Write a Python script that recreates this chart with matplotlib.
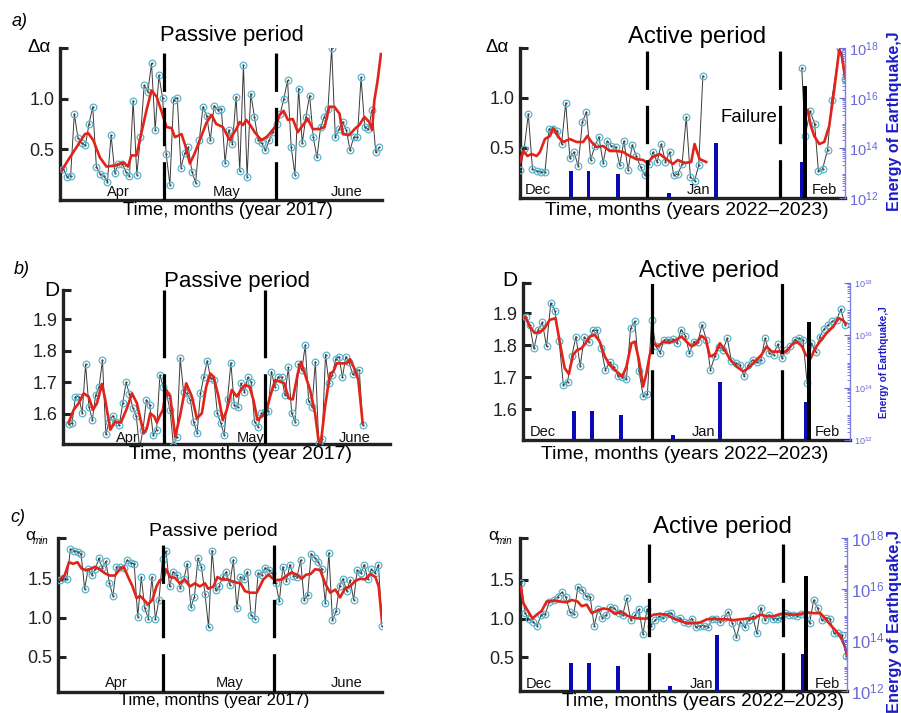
import numpy as np
import matplotlib
matplotlib.use('Agg')
import matplotlib.pyplot as plt
from matplotlib.ticker import LogLocator, NullFormatter

plt.rcParams['font.family'] = ['Liberation Sans', 'DejaVu Sans']
plt.rcParams['mathtext.fontset'] = 'custom'
plt.rcParams['mathtext.rm'] = 'Liberation Sans'
plt.rcParams['mathtext.it'] = 'Liberation Sans:italic'

# ======================= DATA =======================
# (a) Δα, passive period (Apr-June 2017); x in days from axis start
a_pas_span = (0.9, 87.3)
a_pas_raw = [0.31, 0.23, 0.24, 0.85, 0.61, 0.56, 0.54, 0.75, 0.92, 0.33,
             0.26, 0.24, 0.18, 0.64, 0.27, 0.36, 0.36, 0.28, 0.24, 0.98,
             0.25, 0.62, 1.13, 1.07, 1.35, 0.69, 1.23, 1.01, 0.45, 0.15,
             0.99, 1.01, 0.32, 0.46, 0.52, 0.28, 0.17, 0.59, 0.92, 0.83,
             0.59, 0.93, 0.89, 0.90, 0.37, 0.69, 0.55, 1.02, 0.29, 1.33,
             0.23, 1.05, 0.82, 0.59, 0.56, 0.49, 0.59, 0.67, 0.75, 0.85,
             1.00, 1.18, 0.52, 0.25, 1.10, 0.56, 0.82, 1.03, 0.62, 0.42,
             0.72, 0.82, 0.90, 1.50, 0.62, 0.70, 0.77, 0.69, 0.49, 0.62,
             0.62, 1.21, 0.72, 0.70, 0.89, 0.47, 0.52]
a_pas_red_x = [0.5, 1.8, 4.5, 6.8, 7.7, 9.1, 10.9, 12.7, 15, 17.3,
               18.6, 19.5, 20.9, 21.8, 23.6, 25, 26.4, 27.7, 29.1, 30.5,
               31.4, 33.2, 34.4, 35.5, 36.8, 38.2, 40, 41.4, 42.7, 44.5,
               46.4, 47.3, 48.2, 49.1, 50, 50.9, 51.8, 53.2, 55, 56.4,
               57.7, 59.1, 60, 61.1, 62.3, 63.6, 65, 66.4, 67.7, 69.1,
               70.9, 72.3, 73.6, 75, 76.4, 77.3, 79.1, 80.5, 81.8, 83.2,
               84.5, 85.3, 85.9, 86.8, 87.7]
a_pas_red_y = [0.29, 0.37, 0.52, 0.65, 0.66, 0.59, 0.42, 0.33, 0.34, 0.37,
               0.33, 0.44, 0.44, 0.59, 0.88, 1.08, 1.02, 0.88, 0.72, 0.71,
               0.62, 0.65, 0.52, 0.36, 0.46, 0.59, 0.76, 0.84, 0.75, 0.72,
               0.59, 0.65, 0.70, 0.77, 0.74, 0.79, 0.75, 0.67, 0.59, 0.62,
               0.67, 0.74, 0.84, 0.88, 0.79, 0.80, 0.67, 0.74, 0.80, 0.70,
               0.70, 0.72, 0.92, 0.92, 0.85, 0.65, 0.64, 0.70, 0.74, 0.82,
               0.77, 0.69, 0.98, 1.18, 1.44]

# (a) Δα, active period (Dec 2022 - Feb 2023); x in days from 1 Dec
a_act_span1 = (0.0, 44.0)
a_act_raw1 = [0.28, 0.49, 0.84, 0.29, 0.27, 0.26, 0.26, 0.69, 0.69, 0.67,
              0.54, 0.95, 0.40, 0.46, 0.32, 0.76, 0.86, 0.38, 0.52, 0.61,
              0.35, 0.57, 0.52, 0.51, 0.33, 0.57, 0.28, 0.53, 0.42, 0.31,
              0.23, 0.34, 0.46, 0.36, 0.54, 0.36, 0.46, 0.23, 0.24, 0.34,
              0.81, 0.21, 0.17, 0.33, 1.22]
a_act_x2 = [67.8, 68.6, 69.8, 70.9, 71.8, 72.8, 74.0, 75.0, 76.9, 78.2]
a_act_raw2 = [1.30, 0.62, 0.87, 0.74, 0.27, 0.29, 0.48, 0.98, 1.50, 1.19]
a_act_red_x1 = [0, 0.8, 1.8, 2.8, 4, 4.8, 6, 7.2, 8, 9.2, 10.4, 12, 13.6, 15.2,
                16.2, 17.2, 18.4, 20, 21.6, 23.2, 24.8, 26.4, 28, 29.6, 30.6,
                32, 33.6, 35.2, 36.8, 38, 39.6, 41.2, 42, 43.2, 44.8]
a_act_red_y1 = [0.36, 0.47, 0.42, 0.44, 0.42, 0.46, 0.59, 0.62, 0.70, 0.61,
                0.56, 0.59, 0.56, 0.56, 0.62, 0.56, 0.51, 0.52, 0.47, 0.47,
                0.46, 0.42, 0.39, 0.38, 0.35, 0.41, 0.44, 0.39, 0.34, 0.38,
                0.35, 0.36, 0.54, 0.39, 0.36]
a_act_red_x2 = [69.2, 70, 70.8, 72, 73.2, 74.4, 75.6, 76.8, 77.4, 78.2]
a_act_red_y2 = [0.88, 0.72, 0.62, 0.54, 0.56, 0.72, 1.08, 1.48, 1.44, 1.21]

# (b) D, passive period
b_pas_span = (1.7, 90.0)
b_pas_raw = [1.567, 1.571, 1.655, 1.655, 1.602, 1.757, 1.623, 1.581, 1.660, 1.686,
             1.770, 1.536, 1.576, 1.594, 1.576, 1.565, 1.634, 1.700, 1.662, 1.620,
             1.594, 1.490, 1.550, 1.644, 1.628, 1.534, 1.550, 1.723, 1.686, 1.660,
             1.613, 1.500, 1.528, 1.776, 1.670, 1.665, 1.644, 1.573, 1.541, 1.665,
             1.718, 1.768, 1.713, 1.707, 1.602, 1.571, 1.534, 1.646, 1.762, 1.628,
             1.623, 1.697, 1.670, 1.716, 1.702, 1.576, 1.560, 1.602, 1.607, 1.610,
             1.734, 1.686, 1.718, 1.716, 1.660, 1.747, 1.602, 1.576, 1.758, 1.739,
             1.818, 1.641, 1.623, 1.765, 1.507, 1.520, 1.788, 1.697, 1.723, 1.774,
             1.781, 1.716, 1.781, 1.763, 1.725, 1.734, 1.739, 1.565]
b_pas_red_x = [1.7, 3.2, 4.7, 6.2, 7.7, 9, 10.2, 11.7, 12.7, 14.2,
               15.7, 17.4, 19.2, 20.7, 22.2, 24.2, 25.2, 26.2, 27.4, 28.2,
               29, 30, 31, 32.2, 33.7, 35.2, 37, 38.7, 40.2, 41.7,
               43, 44.2, 45.2, 46.7, 48, 49.2, 50.7, 52.2, 53.4, 54.7,
               56, 57.2, 58.4, 59.7, 61, 62.2, 63.7, 65.2, 66.5, 67.7,
               69, 70.5, 71.5, 72.4, 74.2, 75.7, 76.7, 77.4, 78.7, 80.2,
               81.2, 82.2, 83.7, 85.2, 86.2, 87.7, 88.7, 90]
b_pas_red_y = [1.573, 1.613, 1.634, 1.665, 1.655, 1.613, 1.634, 1.695, 1.644, 1.550,
               1.576, 1.573, 1.618, 1.665, 1.634, 1.539, 1.555, 1.602, 1.592, 1.573,
               1.592, 1.613, 1.676, 1.655, 1.528, 1.597, 1.697, 1.655, 1.586, 1.602,
               1.686, 1.728, 1.718, 1.655, 1.581, 1.613, 1.676, 1.655, 1.676, 1.692,
               1.686, 1.644, 1.581, 1.592, 1.607, 1.655, 1.707, 1.702, 1.697, 1.650,
               1.646, 1.728, 1.765, 1.734, 1.676, 1.602, 1.518, 1.505, 1.623, 1.728,
               1.734, 1.760, 1.760, 1.760, 1.773, 1.739, 1.707, 1.570]

# (b) D, active period
b_act_span = (0.6, 77.2)
b_act_raw = [1.888, 1.864, 1.790, 1.848, 1.871, 1.796, 1.931, 1.908, 1.814, 1.676,
             1.686, 1.765, 1.827, 1.735, 1.825, 1.811, 1.846, 1.846, 1.790, 1.723,
             1.746, 1.733, 1.704, 1.702, 1.694, 1.853, 1.874, 1.718, 1.642, 1.648,
             1.879, 1.796, 1.777, 1.817, 1.817, 1.819, 1.806, 1.848, 1.830, 1.775,
             1.811, 1.811, 1.864, 1.817, 1.723, 1.765, 1.794, 1.785, 1.822, 1.749,
             1.744, 1.738, 1.704, 1.738, 1.754, 1.746, 1.754, 1.822, 1.775, 1.770,
             1.803, 1.759, 1.785, 1.798, 1.817, 1.822, 1.817, 1.681, 1.806, 1.780,
             1.827, 1.850, 1.864, 1.874, 1.879, 1.912, 1.864]
b_act_red_x = [0.6, 1.6, 2.8, 4, 5.2, 6.4, 7.8, 9, 10, 11,
               12, 13, 14, 15, 16, 17.2, 18.4, 19.6, 20.8, 22,
               23.8, 24.8, 26, 26.8, 27.8, 28.8, 29.6, 30.4, 31.2, 32.4,
               33.6, 35.2, 36.8, 38, 39.2, 40.4, 41.6, 42.8, 43.8, 44.8,
               46, 47.2, 48.4, 49.6, 51.2, 52.8, 54, 55.6, 57.2, 58.4,
               59.6, 60.8, 62, 63.2, 64.4, 65.6, 66.8, 67.8, 69, 70,
               71.2, 72.8, 74.4, 75.6, 76.6, 77.4]
b_act_red_y = [1.888, 1.858, 1.838, 1.840, 1.853, 1.879, 1.884, 1.796, 1.728, 1.710,
               1.770, 1.785, 1.790, 1.806, 1.827, 1.832, 1.811, 1.765, 1.738, 1.723,
               1.702, 1.733, 1.806, 1.811, 1.754, 1.671, 1.713, 1.770, 1.806, 1.796,
               1.811, 1.808, 1.817, 1.827, 1.811, 1.796, 1.806, 1.829, 1.819, 1.765,
               1.770, 1.806, 1.785, 1.756, 1.733, 1.718, 1.728, 1.749, 1.770, 1.796,
               1.780, 1.780, 1.780, 1.780, 1.801, 1.811, 1.798, 1.770, 1.759, 1.790,
               1.811, 1.838, 1.858, 1.884, 1.879, 1.867]

# (c) α_min, passive period
c_pas_span = (0.5, 88.2)
c_pas_raw = [1.48, 1.51, 1.50, 1.88, 1.86, 1.84, 1.82, 1.37, 1.62, 1.55,
             1.62, 1.76, 1.64, 1.72, 1.44, 1.28, 1.65, 1.65, 1.64, 1.74,
             1.70, 1.69, 1.01, 1.52, 1.12, 0.99, 1.52, 0.98, 1.23, 1.75,
             1.85, 1.40, 1.59, 1.55, 1.38, 1.49, 1.69, 1.14, 1.26, 1.76,
             1.65, 1.31, 0.88, 1.86, 1.35, 1.40, 1.52, 1.59, 1.42, 1.74,
             1.12, 1.52, 1.50, 1.59, 1.04, 0.99, 1.57, 1.55, 1.64, 1.61,
             1.57, 1.44, 1.21, 1.65, 1.47, 1.68, 1.54, 1.52, 1.74, 1.23,
             1.29, 1.82, 1.77, 1.71, 1.62, 1.19, 1.83, 0.97, 1.08, 1.41,
             1.50, 1.34, 1.48, 1.23, 1.61, 1.57, 1.68, 1.49, 1.62, 1.57,
             1.68, 0.89]
c_pas_red_x = [0.5, 1.8, 3, 4.1, 5.3, 6.4, 7.5, 8.6, 10, 11.4,
               12.7, 14.1, 15.5, 16.8, 17.9, 19.1, 20.3, 21.4, 22.3, 23.4,
               24.5, 25.7, 26.8, 27.7, 28.6, 29.4, 30.5, 31.8, 33.2, 34.5,
               35.9, 37.3, 38.6, 40, 40.9, 42.3, 43.4, 44.5, 45.9, 47.3,
               48.6, 49.7, 50.9, 52.3, 54.1, 55.9, 57.3, 58.5, 59.5, 60.9,
               62.3, 63.6, 65, 66.4, 67.5, 68.8, 70, 71.4, 72.7, 74.1,
               75.5, 76.8, 78.2, 79.5, 80.9, 82.3, 83.6, 85, 86.4, 87.3, 88.2]
c_pas_red_y = [1.49, 1.54, 1.71, 1.69, 1.71, 1.63, 1.61, 1.62, 1.65, 1.62,
               1.57, 1.54, 1.54, 1.62, 1.65, 1.52, 1.40, 1.25, 1.28, 1.23,
               1.17, 1.23, 1.40, 1.48, 1.49, 1.62, 1.52, 1.51, 1.44, 1.49,
               1.40, 1.44, 1.40, 1.44, 1.37, 1.40, 1.52, 1.49, 1.49, 1.47,
               1.45, 1.44, 1.34, 1.32, 1.32, 1.49, 1.55, 1.50, 1.48, 1.49,
               1.54, 1.58, 1.55, 1.50, 1.55, 1.56, 1.62, 1.61, 1.44, 1.32,
               1.36, 1.26, 1.38, 1.40, 1.47, 1.50, 1.49, 1.56, 1.52, 1.40, 0.95]

# (c) α_min, active period
c_act_span = (0.24, 78.2)
c_act_raw = [1.46, 1.07, 0.99, 0.96, 0.91, 1.05, 1.06, 1.22, 1.24, 1.28,
             1.34, 1.28, 1.09, 1.06, 1.41, 1.37, 1.29, 1.28, 0.91, 1.12,
             1.01, 1.05, 1.15, 1.13, 1.07, 1.04, 1.26, 0.98, 1.04, 1.12,
             0.80, 1.12, 0.91, 0.98, 1.03, 1.01, 1.06, 1.07, 1.00, 1.01,
             0.96, 0.94, 1.00, 0.89, 0.91, 0.91, 0.89, 0.99, 1.00, 0.96,
             1.01, 1.09, 0.94, 0.76, 0.96, 0.89, 0.98, 1.03, 0.81, 1.14,
             0.98, 1.05, 1.00, 1.00, 1.01, 1.07, 1.04, 1.05, 1.03, 1.06,
             1.04, 0.94, 1.24, 1.13, 0.98, 1.01, 1.00, 0.81, 0.81, 0.79,
             0.52]
c_act_red_x = [0.2, 0.8, 2, 3, 4, 5.2, 6.4, 8, 9.6, 11.2,
               12.4, 13.8, 14.8, 16, 17.2, 18.4, 20, 21.2, 22.8, 24.2,
               25.6, 27.2, 28.8, 30.4, 32, 33.6, 35.2, 36.8, 38.4, 40,
               41.6, 43.2, 44.8, 46.4, 48, 49.6, 51.2, 52.8, 54.4, 56,
               57.6, 59.2, 60.8, 62.4, 64, 65.6, 67.2, 68.8, 70.4, 72,
               73.2, 74.4, 75.6, 76.8, 77.8, 78.4]
c_act_red_y = [1.41, 1.20, 1.09, 1.00, 1.05, 1.10, 1.22, 1.23, 1.22, 1.21,
               1.24, 1.22, 1.16, 1.18, 1.07, 1.10, 1.13, 1.12, 1.06, 1.09,
               1.04, 1.01, 1.00, 1.00, 1.05, 1.06, 1.05, 1.00, 0.97, 0.94,
               0.94, 0.95, 0.99, 1.00, 0.99, 0.99, 0.98, 0.99, 1.00, 1.00,
               1.05, 1.03, 1.03, 1.06, 1.06, 1.05, 1.06, 1.08, 1.07, 1.07,
               1.00, 0.92, 0.85, 0.77, 0.65, 0.54]

# earthquakes (day from 1 Dec 2022, log10 energy in J)
eq_days = [12.3, 16.5, 23.5, 35.9, 47.2, 67.8]
eq_logE = [13.1, 13.1, 12.97, 12.2, 14.2, 13.45]
main_day = 68.6
main_logE = 16.5

# ======================= FIGURE =======================
W, H = 901, 713
fig = plt.figure(figsize=(W / 100, H / 100), dpi=100)
fig.patch.set_facecolor('white')

def rect(l, t, r, b):
    return [l / W, 1 - b / H, (r - l) / W, (b - t) / H]

def ftext(x, y, s, **kw):
    fig.text(x / W, 1 - y / H, s, **kw)

RAW_C = '#3a3a3a'
MK_C = '#5ab5cc'
RED_C = '#e2231a'
BAR_C = '#0a0ab4'
EN_TICK_C = '#6868d8'
EN_LAB_C = '#1c1cc8'

def base_axes(r, xlim, ylim, ticks, ticklabels):
    ax = fig.add_axes(rect(*r))
    ax.set_xlim(*xlim)
    ax.set_ylim(*ylim)
    ax.set_xticks([])
    ax.set_yticks(ticks)
    ax.set_yticklabels(ticklabels)
    for s in ['top', 'right']:
        ax.spines[s].set_visible(False)
    for s in ['left', 'bottom']:
        ax.spines[s].set_linewidth(2.4)
        ax.spines[s].set_color('#222222')
    ax.tick_params(axis='y', direction='in', length=6, width=2.2,
                   labelsize=13, pad=4, colors='#222222')
    ax.patch.set_alpha(0)
    return ax

def draw_series(ax, x, y, rx, ry):
    ax.plot(x, y, '-', color=RAW_C, lw=0.7, zorder=2)
    ax.plot(x, y, 'o', ms=4.8, mfc='none', mec=MK_C, mew=0.9, zorder=3)
    ax.plot(x, y, 'o', ms=0.6, color='#444444', zorder=3)
    ax.plot(rx, ry, '-', color=RED_C, lw=1.9, zorder=4)

def dividers(ax, days, ls):
    for d in days:
        ax.axvline(d, color='black', lw=2.3, ls=ls, zorder=5)

def months(ax, items, yfrac, fs=10.5):
    for name, d in items:
        ax.text(d, yfrac, name, transform=ax.get_xaxis_transform(),
                ha='center', va='baseline', fontsize=fs, color='#111111', zorder=6)

def energy_axis(ax, tick_fs):
    ax2 = ax.twinx()
    ax2.set_yscale('log')
    ax2.set_ylim(1e12, 1e18)
    ax2.bar(eq_days, [10 ** e - 1e12 for e in eq_logE], bottom=1e12,
            width=0.9, color=BAR_C, zorder=3)
    ax2.bar([main_day], [10 ** main_logE - 1e12], bottom=1e12,
            width=1.1, color='black', zorder=4)
    ax2.set_yticks([1e12, 1e14, 1e16, 1e18])
    ax2.set_yticklabels([r'$10^{12}$', r'$10^{14}$', r'$10^{16}$', r'$10^{18}$'])
    ax2.yaxis.set_minor_locator(LogLocator(base=10, subs=np.arange(2, 10), numticks=50))
    ax2.yaxis.set_minor_formatter(NullFormatter())
    ax2.tick_params(axis='y', which='major', direction='in', length=4, width=0.8,
                    colors=EN_TICK_C, labelsize=tick_fs, pad=3)
    ax2.tick_params(axis='y', which='minor', direction='in', length=2, width=0.6,
                    colors=EN_TICK_C)
    for s in ['top', 'left', 'bottom']:
        ax2.spines[s].set_visible(False)
    ax2.spines['right'].set_color('#8080e0')
    ax2.spines['right'].set_linewidth(1.0)
    return ax2

dash_a = (0, (12, 5))
dash_b = (0, (22, 5))

# ---------- (a) passive ----------
ax = base_axes((60, 48, 382, 200), (0, 88), (0.0, 1.5), [0.5, 1.0, 1.5], ['0.5', '1.0', ''])
draw_series(ax, np.linspace(*a_pas_span, len(a_pas_raw)), a_pas_raw, a_pas_red_x, a_pas_red_y)
dividers(ax, [28.5, 58.9], dash_a)
months(ax, [('Apr', 15.9), ('May', 45.5), ('June', 78.2)], 0.026)

# ---------- (a) active ----------
ax = base_axes((520, 48, 845, 198), (0, 78.2), (0.0, 1.5), [0.5, 1.0, 1.5], ['0.5', '1.0', ''])
energy_axis(ax, 10.5)
draw_series(ax, np.linspace(*a_act_span1, len(a_act_raw1)), a_act_raw1, a_act_red_x1, a_act_red_y1)
draw_series(ax, a_act_x2, a_act_raw2, a_act_red_x2, a_act_red_y2)
dividers(ax, [30.6, 62.6], dash_a)
months(ax, [('Dec', 4.2), ('Jan', 43), ('Feb', 73.2)], 0.03)
ax.text(55.1, 0.81, 'Failure', fontsize=13.4, ha='center', va='center', zorder=6,
        bbox=dict(facecolor='white', edgecolor='none', pad=1))

# ---------- (b) passive ----------
ax = base_axes((63, 290, 390, 444), (0, 98.2), (1.505, 1.992),
               [1.6, 1.7, 1.8, 1.9, 1.992], ['1.6', '1.7', '1.8', '1.9', ''])
draw_series(ax, np.linspace(*b_pas_span, len(b_pas_raw)), b_pas_raw, b_pas_red_x, b_pas_red_y)
dividers(ax, [30.2, 60.7], dash_b)
months(ax, [('Apr', 19.2), ('May', 56.2), ('June', 87.7)], 0.015)

# ---------- (b) active ----------
ax = base_axes((523, 283, 850, 440), (0, 78.4), (1.504, 1.994),
               [1.6, 1.7, 1.8, 1.9, 1.994], ['1.6', '1.7', '1.8', '1.9', ''])
energy_axis(ax, 6.5)
draw_series(ax, np.linspace(*b_act_span, len(b_act_raw)), b_act_raw, b_act_red_x, b_act_red_y)
dividers(ax, [31.0, 62.2], dash_b)
months(ax, [('Dec', 4.8), ('Jan', 43.2), ('Feb', 73.0)], 0.025)

# ---------- (c) passive ----------
ax = base_axes((58, 538, 382, 692), (0, 88.2), (0.05, 2.02),
               [0.5, 1.0, 1.5, 2.02], ['0.5', '1.0', '1.5', ''])
draw_series(ax, np.linspace(*c_pas_span, len(c_pas_raw)), c_pas_raw, c_pas_red_x, c_pas_red_y)
dividers(ax, [28.6, 58.9], dash_a)
months(ax, [('Apr', 15.9), ('May', 46.8), ('June', 78.6)], 0.035)

# ---------- (c) active ----------
ax = base_axes((520, 538, 847, 691), (0, 78.4), (0.065, 2.04),
               [0.5, 1.0, 1.5, 2.04], ['0.5', '1.0', '1.5', ''])
energy_axis(ax, 12)
draw_series(ax, np.linspace(*c_act_span, len(c_act_raw)), c_act_raw, c_act_red_x, c_act_red_y)
dividers(ax, [31.0, 63.0], dash_a)
months(ax, [('Dec', 4.6), ('Jan', 43.6), ('Feb', 73.8)], 0.02)

# ---------- figure texts ----------
ftext(20, 21, 'a)', fontsize=13, style='italic', ha='center', va='center')
ftext(22, 270, 'b)', fontsize=13, style='italic', ha='center', va='center')
ftext(18, 518, 'c)', fontsize=13, style='italic', ha='center', va='center')

ftext(232, 36, 'Passive period', fontsize=15.8, ha='center', va='center')
ftext(697, 37, 'Active period', fontsize=17.2, ha='center', va='center')
ftext(237, 281, 'Passive period', fontsize=16, ha='center', va='center')
ftext(709, 271, 'Active period', fontsize=17.5, ha='center', va='center')
ftext(213, 532, 'Passive period', fontsize=14, ha='center', va='center')
ftext(722, 527, 'Active period', fontsize=17.3, ha='center', va='center')

ftext(228, 210, 'Time, months (year 2017)', fontsize=13.2, ha='center', va='center')
ftext(687, 210, 'Time, months (years 2022\u20132023)', fontsize=13.9, ha='center', va='center')
ftext(241, 455, 'Time, months (year 2017)', fontsize=14, ha='center', va='center')
ftext(685, 455, 'Time, months (years 2022\u20132023)', fontsize=14, ha='center', va='center')
ftext(214, 701, 'Time, months (year 2017)', fontsize=12, ha='center', va='center')
ftext(703, 701, 'Time, months (years 2022\u20132023)', fontsize=13.8, ha='center', va='center')

# y-axis names
ftext(39, 48, '\u0394\u03b1', fontsize=13.5, ha='center', va='center')
ftext(497, 48, '\u0394\u03b1', fontsize=13.5, ha='center', va='center')
ftext(52, 290, 'D', fontsize=15, ha='center', va='center')
ftext(510, 280, 'D', fontsize=15, ha='center', va='center')
ftext(30, 535, '\u03b1', fontsize=12.5, ha='center', va='center')
ftext(33, 541, 'min', fontsize=7, style='italic', ha='left', va='center')
ftext(493, 535, '\u03b1', fontsize=12.5, ha='center', va='center')
ftext(497, 541, 'min', fontsize=7, style='italic', ha='left', va='center')

# energy axis labels
ftext(895, 121, 'Energy of Earthquake,J', fontsize=11.5, fontweight='bold',
      color=EN_LAB_C, rotation=90, ha='center', va='center')
ftext(884, 362, 'Energy of Earthquake,J', fontsize=7.2, fontweight='bold',
      color=EN_LAB_C, rotation=90, ha='center', va='center')
ftext(895, 530, 'Energy of Earthquake,J', fontsize=11.8, fontweight='bold',
      color=EN_LAB_C, rotation=90, ha='center', va='top')

fig.savefig('out.png', dpi=100, facecolor='white')
